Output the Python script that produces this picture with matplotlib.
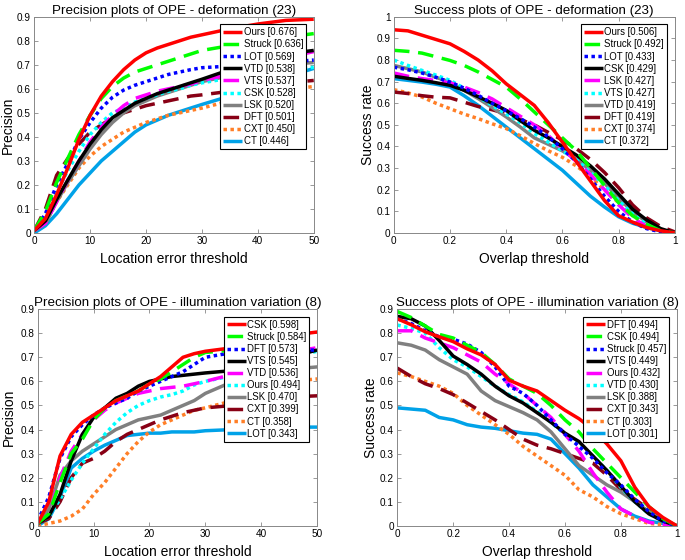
import matplotlib
matplotlib.use("Agg")
import matplotlib.pyplot as plt

plt.rcParams["font.family"] = ["Liberation Sans", "DejaVu Sans"]

# x grids (location error in px / overlap threshold)
PREC_X = [0, 2, 4, 6, 8, 10, 12, 14, 16, 18, 20, 22, 24, 26, 28, 30, 35, 40, 45, 50]
SUCC_X = [0, 0.05, 0.1, 0.15, 0.2, 0.25, 0.3, 0.35, 0.4, 0.45, 0.5,
          0.55, 0.6, 0.65, 0.7, 0.75, 0.8, 0.85, 0.9, 0.95, 1.0]

# ---- precision, deformation (23) ----
DEF_PREC_NAMES = ["Ours", "Struck", "LOT", "VTD", "VTS", "CSK", "LSK", "DFT", "CXT", "CT"]
DEF_PREC_SCORES = [0.676, 0.636, 0.569, 0.538, 0.537, 0.528, 0.520, 0.501, 0.450, 0.446]
def_prec_ours = [0.01, 0.06, 0.16, 0.27, 0.39, 0.49, 0.57, 0.63, 0.68, 0.72, 0.75, 0.77, 0.785, 0.80, 0.815, 0.825, 0.85, 0.87, 0.885, 0.89]
def_prec_struck = [0.01, 0.09, 0.21, 0.31, 0.41, 0.49, 0.56, 0.61, 0.645, 0.67, 0.685, 0.70, 0.715, 0.73, 0.745, 0.76, 0.78, 0.80, 0.815, 0.83]
def_prec_lot = [0.01, 0.08, 0.20, 0.29, 0.39, 0.46, 0.52, 0.565, 0.595, 0.615, 0.63, 0.645, 0.66, 0.67, 0.68, 0.688, 0.695, 0.70, 0.71, 0.72]
def_prec_vtd = [0.01, 0.05, 0.14, 0.22, 0.30, 0.37, 0.43, 0.48, 0.51, 0.54, 0.56, 0.58, 0.595, 0.61, 0.625, 0.64, 0.68, 0.72, 0.745, 0.76]
def_prec_vts = [0.01, 0.04, 0.13, 0.22, 0.30, 0.38, 0.44, 0.49, 0.53, 0.56, 0.575, 0.59, 0.60, 0.61, 0.62, 0.635, 0.66, 0.70, 0.73, 0.755]
def_prec_csk = [0.01, 0.07, 0.17, 0.26, 0.34, 0.41, 0.46, 0.50, 0.52, 0.545, 0.56, 0.575, 0.59, 0.60, 0.615, 0.625, 0.645, 0.66, 0.675, 0.69]
def_prec_lsk = [0.01, 0.04, 0.13, 0.21, 0.28, 0.35, 0.41, 0.46, 0.50, 0.53, 0.55, 0.57, 0.585, 0.60, 0.615, 0.63, 0.655, 0.68, 0.70, 0.71]
def_prec_dft = [0.01, 0.10, 0.24, 0.31, 0.37, 0.42, 0.45, 0.48, 0.50, 0.515, 0.53, 0.54, 0.55, 0.56, 0.57, 0.575, 0.59, 0.61, 0.625, 0.635]
def_prec_cxt = [0.01, 0.04, 0.13, 0.20, 0.27, 0.32, 0.36, 0.39, 0.42, 0.44, 0.46, 0.475, 0.49, 0.50, 0.51, 0.52, 0.55, 0.575, 0.595, 0.61]
def_prec_ct = [0.0, 0.03, 0.08, 0.14, 0.20, 0.25, 0.30, 0.34, 0.38, 0.42, 0.45, 0.47, 0.49, 0.505, 0.52, 0.535, 0.57, 0.61, 0.65, 0.685]

# ---- success, deformation (23) ----
DEF_SUCC_NAMES = ["Ours", "Struck", "LOT", "CSK", "LSK", "VTS", "VTD", "DFT", "CXT", "CT"]
DEF_SUCC_SCORES = [0.506, 0.492, 0.433, 0.429, 0.427, 0.427, 0.419, 0.419, 0.374, 0.372]
def_succ_ours = [0.94, 0.935, 0.915, 0.895, 0.875, 0.84, 0.80, 0.75, 0.69, 0.64, 0.59, 0.51, 0.42, 0.33, 0.24, 0.15, 0.08, 0.05, 0.025, 0.01, 0.0]
def_succ_struck = [0.845, 0.84, 0.832, 0.815, 0.798, 0.775, 0.745, 0.71, 0.675, 0.62, 0.56, 0.50, 0.44, 0.38, 0.30, 0.22, 0.14, 0.08, 0.04, 0.01, 0.0]
def_succ_lot = [0.767, 0.755, 0.74, 0.72, 0.698, 0.67, 0.637, 0.60, 0.565, 0.53, 0.49, 0.445, 0.39, 0.33, 0.25, 0.17, 0.10, 0.05, 0.02, 0.005, 0.0]
def_succ_csk = [0.725, 0.715, 0.706, 0.695, 0.683, 0.66, 0.63, 0.60, 0.567, 0.52, 0.475, 0.44, 0.40, 0.36, 0.31, 0.25, 0.18, 0.11, 0.06, 0.02, 0.0]
def_succ_lsk = [0.74, 0.725, 0.714, 0.705, 0.694, 0.675, 0.65, 0.62, 0.58, 0.54, 0.50, 0.45, 0.39, 0.33, 0.27, 0.20, 0.13, 0.07, 0.03, 0.01, 0.0]
def_succ_vts = [0.80, 0.775, 0.752, 0.73, 0.706, 0.67, 0.63, 0.59, 0.55, 0.51, 0.46, 0.42, 0.38, 0.34, 0.28, 0.22, 0.15, 0.09, 0.04, 0.01, 0.0]
def_succ_vtd = [0.775, 0.76, 0.745, 0.72, 0.698, 0.66, 0.622, 0.58, 0.537, 0.49, 0.44, 0.41, 0.38, 0.34, 0.29, 0.23, 0.16, 0.10, 0.05, 0.01, 0.0]
def_succ_dft = [0.652, 0.645, 0.635, 0.628, 0.625, 0.605, 0.585, 0.57, 0.552, 0.525, 0.50, 0.465, 0.43, 0.39, 0.34, 0.28, 0.21, 0.13, 0.07, 0.03, 0.005]
def_succ_cxt = [0.663, 0.648, 0.629, 0.60, 0.575, 0.55, 0.529, 0.505, 0.483, 0.45, 0.414, 0.38, 0.35, 0.31, 0.26, 0.20, 0.14, 0.08, 0.04, 0.01, 0.0]
def_succ_ct = [0.714, 0.706, 0.698, 0.688, 0.675, 0.635, 0.59, 0.54, 0.49, 0.44, 0.39, 0.34, 0.29, 0.23, 0.17, 0.12, 0.075, 0.045, 0.025, 0.01, 0.0]

# ---- precision, illumination variation (8) ----
ILL_PREC_NAMES = ["CSK", "Struck", "DFT", "VTS", "VTD", "Ours", "LSK", "CXT", "CT", "LOT"]
ILL_PREC_SCORES = [0.598, 0.584, 0.573, 0.545, 0.536, 0.494, 0.470, 0.399, 0.358, 0.343]
ill_prec_csk = [0.01, 0.10, 0.29, 0.38, 0.43, 0.46, 0.49, 0.52, 0.54, 0.56, 0.59, 0.62, 0.66, 0.70, 0.715, 0.725, 0.74, 0.77, 0.79, 0.805]
ill_prec_struck = [0.01, 0.05, 0.18, 0.30, 0.36, 0.44, 0.49, 0.52, 0.54, 0.56, 0.59, 0.61, 0.64, 0.67, 0.70, 0.72, 0.73, 0.735, 0.74, 0.74]
ill_prec_dft = [0.02, 0.12, 0.28, 0.37, 0.42, 0.46, 0.49, 0.51, 0.53, 0.56, 0.58, 0.60, 0.62, 0.64, 0.67, 0.70, 0.72, 0.73, 0.73, 0.73]
ill_prec_vts = [0.01, 0.04, 0.13, 0.27, 0.38, 0.45, 0.49, 0.53, 0.55, 0.58, 0.60, 0.61, 0.62, 0.625, 0.63, 0.635, 0.645, 0.66, 0.70, 0.73]
ill_prec_vtd = [0.01, 0.05, 0.20, 0.31, 0.38, 0.44, 0.48, 0.51, 0.53, 0.55, 0.56, 0.57, 0.575, 0.58, 0.59, 0.60, 0.63, 0.68, 0.72, 0.74]
ill_prec_ours = [0.01, 0.04, 0.11, 0.19, 0.26, 0.32, 0.38, 0.43, 0.47, 0.50, 0.52, 0.535, 0.545, 0.56, 0.585, 0.60, 0.625, 0.66, 0.70, 0.725]
ill_prec_lsk = [0.01, 0.07, 0.21, 0.27, 0.31, 0.34, 0.37, 0.40, 0.42, 0.44, 0.45, 0.46, 0.48, 0.50, 0.52, 0.55, 0.60, 0.63, 0.65, 0.66]
ill_prec_cxt = [0.01, 0.03, 0.10, 0.20, 0.26, 0.28, 0.31, 0.35, 0.38, 0.40, 0.42, 0.44, 0.455, 0.47, 0.48, 0.49, 0.50, 0.52, 0.535, 0.54]
ill_prec_ct = [0.0, 0.01, 0.02, 0.04, 0.07, 0.13, 0.18, 0.24, 0.30, 0.35, 0.39, 0.42, 0.44, 0.46, 0.48, 0.49, 0.52, 0.56, 0.60, 0.61]
ill_prec_lot = [0.0, 0.03, 0.12, 0.24, 0.28, 0.31, 0.335, 0.355, 0.375, 0.38, 0.385, 0.385, 0.39, 0.39, 0.39, 0.395, 0.40, 0.405, 0.41, 0.41]

# ---- success, illumination variation (8) ----
ILL_SUCC_NAMES = ["DFT", "CSK", "Struck", "VTS", "Ours", "VTD", "LSK", "CXT", "CT", "LOT"]
ILL_SUCC_SCORES = [0.494, 0.494, 0.457, 0.449, 0.432, 0.430, 0.388, 0.343, 0.303, 0.301]
ill_succ_dft = [0.86, 0.835, 0.806, 0.785, 0.765, 0.735, 0.71, 0.67, 0.605, 0.58, 0.56, 0.52, 0.48, 0.445, 0.40, 0.34, 0.27, 0.16, 0.08, 0.035, 0.0]
ill_succ_csk = [0.89, 0.865, 0.83, 0.795, 0.78, 0.75, 0.72, 0.67, 0.61, 0.58, 0.55, 0.50, 0.44, 0.39, 0.32, 0.26, 0.20, 0.14, 0.08, 0.03, 0.0]
ill_succ_struck = [0.86, 0.84, 0.81, 0.785, 0.775, 0.755, 0.72, 0.66, 0.58, 0.55, 0.50, 0.44, 0.38, 0.33, 0.28, 0.22, 0.17, 0.11, 0.06, 0.02, 0.0]
ill_succ_vts = [0.87, 0.86, 0.83, 0.77, 0.705, 0.67, 0.63, 0.58, 0.54, 0.51, 0.47, 0.43, 0.385, 0.35, 0.29, 0.23, 0.165, 0.10, 0.05, 0.02, 0.0]
ill_succ_ours = [0.81, 0.81, 0.78, 0.76, 0.74, 0.71, 0.68, 0.63, 0.59, 0.55, 0.50, 0.45, 0.38, 0.31, 0.22, 0.14, 0.07, 0.04, 0.015, 0.005, 0.0]
ill_succ_vtd = [0.834, 0.82, 0.80, 0.74, 0.69, 0.66, 0.62, 0.58, 0.545, 0.515, 0.475, 0.43, 0.38, 0.34, 0.29, 0.23, 0.16, 0.10, 0.05, 0.02, 0.0]
ill_succ_lsk = [0.76, 0.75, 0.73, 0.69, 0.66, 0.63, 0.56, 0.52, 0.495, 0.47, 0.44, 0.39, 0.32, 0.25, 0.21, 0.17, 0.14, 0.10, 0.06, 0.02, 0.0]
ill_succ_cxt = [0.655, 0.62, 0.59, 0.57, 0.545, 0.51, 0.475, 0.44, 0.40, 0.36, 0.335, 0.32, 0.30, 0.28, 0.26, 0.21, 0.15, 0.11, 0.07, 0.02, 0.0]
ill_succ_ct = [0.635, 0.62, 0.60, 0.58, 0.55, 0.50, 0.46, 0.42, 0.38, 0.33, 0.29, 0.25, 0.21, 0.15, 0.12, 0.08, 0.05, 0.03, 0.01, 0.005, 0.0]
ill_succ_lot = [0.49, 0.485, 0.48, 0.45, 0.44, 0.42, 0.41, 0.405, 0.395, 0.385, 0.38, 0.36, 0.30, 0.24, 0.17, 0.12, 0.07, 0.04, 0.02, 0.01, 0.0]

# rank-based styles (OTB toolkit convention)
RANK_COLORS = ["#ff0000", "#00ff00", "#0000ff", "#000000", "#ff00ff",
               "#00ffff", "#808080", "#880015", "#ff7f27", "#00a2e8"]
RANK_STYLES = ["-", (0, (4.5, 2.5)), (0, (1, 1)), "-", (0, (4.5, 2.5)),
               (0, (1, 1)), "-", (0, (4.5, 2.5)), (0, (1, 1)), "-"]


def _panel(ax, x, curves, names, scores, title, xlabel, ylabel, xlim, ylim, xticks, yticks,
           ylab_x):
    # draw lowest rank first so the best tracker ends up on top
    for k in reversed(range(len(curves))):
        ax.plot(x, curves[k], color=RANK_COLORS[k], linestyle=RANK_STYLES[k], lw=2.5,
                dash_capstyle="butt", solid_capstyle="butt",
                label=f"{names[k]} [{scores[k]:.3f}]")
    ax.set_xlim(*xlim); ax.set_ylim(*ylim)
    ax.set_xticks(xticks); ax.set_yticks(yticks)
    ax.set_xticklabels([f"{t:g}" for t in xticks])
    ax.set_yticklabels([f"{t:g}" for t in yticks])
    ax.tick_params(direction="in", top=True, right=True, length=3, width=0.6,
                   color="#888888", labelsize=7.2, pad=2.5)
    for s in ax.spines.values():
        s.set_color("#888888"); s.set_linewidth(0.7)
    ax.set_title(title, fontsize=9.6, pad=2)
    ax.set_xlabel(xlabel, fontsize=10, labelpad=4)
    ax.set_ylabel(ylabel, fontsize=10)
    ax.yaxis.set_label_coords(ylab_x, 0.5)
    h, l = ax.get_legend_handles_labels()
    leg = ax.legend(h[::-1], l[::-1], loc="upper right", fontsize=6.9, frameon=True,
                    fancybox=False, edgecolor="black", framealpha=1,
                    handlelength=2.0, handletextpad=0.15, labelspacing=0.22,
                    borderpad=0.3, borderaxespad=0.8)
    leg.get_frame().set_linewidth(0.8)


fig = plt.figure(figsize=(6.85, 5.6), dpi=100)
ax1 = fig.add_axes([0.050, 0.584, 0.408, 0.386])
ax2 = fig.add_axes([0.575, 0.584, 0.410, 0.386])
ax3 = fig.add_axes([0.055, 0.061, 0.408, 0.387])
ax4 = fig.add_axes([0.580, 0.061, 0.408, 0.387])

p_ticks = [0, 10, 20, 30, 40, 50]
s_ticks = [0, 0.2, 0.4, 0.6, 0.8, 1]
y09 = [0, 0.1, 0.2, 0.3, 0.4, 0.5, 0.6, 0.7, 0.8, 0.9]
y10 = [0, 0.1, 0.2, 0.3, 0.4, 0.5, 0.6, 0.7, 0.8, 0.9, 1]

_panel(ax1, PREC_X,
       [def_prec_ours, def_prec_struck, def_prec_lot, def_prec_vtd, def_prec_vts,
        def_prec_csk, def_prec_lsk, def_prec_dft, def_prec_cxt, def_prec_ct],
       DEF_PREC_NAMES, DEF_PREC_SCORES, "Precision plots of OPE - deformation (23)",
       "Location error threshold", "Precision", (0, 50), (0, 0.9), p_ticks, y09, -0.068)
_panel(ax2, SUCC_X,
       [def_succ_ours, def_succ_struck, def_succ_lot, def_succ_csk, def_succ_lsk,
        def_succ_vts, def_succ_vtd, def_succ_dft, def_succ_cxt, def_succ_ct],
       DEF_SUCC_NAMES, DEF_SUCC_SCORES, "Success plots of OPE - deformation (23)",
       "Overlap threshold", "Success rate", (0, 1), (0, 1), s_ticks, y10, -0.066)
_panel(ax3, PREC_X,
       [ill_prec_csk, ill_prec_struck, ill_prec_dft, ill_prec_vts, ill_prec_vtd,
        ill_prec_ours, ill_prec_lsk, ill_prec_cxt, ill_prec_ct, ill_prec_lot],
       ILL_PREC_NAMES, ILL_PREC_SCORES, "Precision plots of OPE - illumination variation (8)",
       "Location error threshold", "Precision", (0, 50), (0, 0.9), p_ticks, y09, -0.078)
_panel(ax4, SUCC_X,
       [ill_succ_dft, ill_succ_csk, ill_succ_struck, ill_succ_vts, ill_succ_ours,
        ill_succ_vtd, ill_succ_lsk, ill_succ_cxt, ill_succ_ct, ill_succ_lot],
       ILL_SUCC_NAMES, ILL_SUCC_SCORES, "Success plots of OPE - illumination variation (8)",
       "Overlap threshold", "Success rate", (0, 1), (0, 0.9), s_ticks, y09, -0.07)

fig.savefig("out.png", dpi=100)
